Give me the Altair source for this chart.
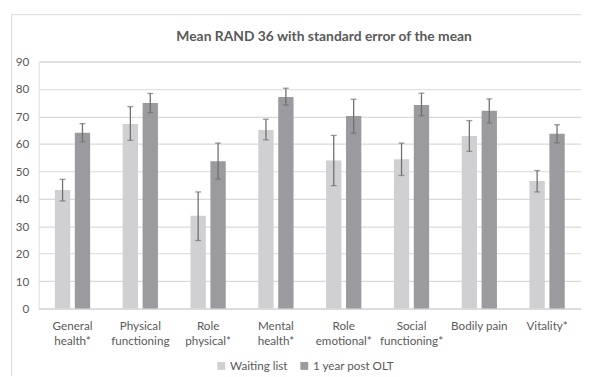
import altair as alt
import pandas as pd

title_text = "Mean RAND 36 with standard error of the mean"
categories = ["General\nhealth*", "Physical\nfunctioning", "Role\nphysical*", "Mental\nhealth*",
              "Role\nemotional*", "Social\nfunctioning*", "Bodily pain", "Vitality*"]
series = ["Waiting list", "1 year post OLT"]
waiting = [43.2, 67.3, 33.8, 65.1, 54.0, 54.4, 62.9, 46.5]
waiting_lo = [39.2, 61.3, 24.8, 61.5, 44.8, 48.5, 57.3, 42.5]
waiting_hi = [47.1, 73.6, 42.5, 69.0, 63.1, 60.3, 68.5, 50.3]
post = [64.1, 74.9, 53.7, 77.1, 70.2, 74.2, 72.1, 63.7]
post_lo = [60.8, 71.4, 47.2, 74.2, 63.9, 70.3, 67.6, 60.4]
post_hi = [67.4, 78.4, 60.3, 80.3, 76.3, 78.5, 76.4, 67.0]
y_ticks = list(range(0, 91, 10))
colors = ["#d0d0d2", "#9b9b9f"]

rows = []
for i, c in enumerate(categories):
    rows.append({"cat": c, "series": series[0], "mean": waiting[i], "lo": waiting_lo[i], "hi": waiting_hi[i]})
    rows.append({"cat": c, "series": series[1], "mean": post[i], "lo": post_lo[i], "hi": post_hi[i]})
df = pd.DataFrame(rows)

FONT = "Lato"
TXT = "#595959"
FS = 11.8
W, H = 549, 250

x = alt.X("cat:N", sort=categories, title=None,
          scale=alt.Scale(paddingInner=0.48, paddingOuter=0.24),
          axis=alt.Axis(labelAngle=0, labelExpr="split(datum.label, '\\n')",
                        labelFontSize=FS, labelColor=TXT, labelFont=FONT, labelPadding=12.5,
                        labelLineHeight=15, ticks=False, domainColor="#d9d9d9", domainWidth=1.2,
                        labelBaseline="top"))
xo = alt.XOffset("series:N", sort=series, scale=alt.Scale(paddingInner=0.23, paddingOuter=0))
yscale = alt.Scale(domain=[0, 90], nice=False)
yaxis = alt.Axis(values=y_ticks, domain=False, ticks=False, labelOverlap=False,
                 labelFontSize=FS, labelColor=TXT, labelFont=FONT, labelPadding=10,
                 gridColor="#d9d9d9", gridWidth=1.2, title=None)

def Y(field):
    return alt.Y(field, type="quantitative", title=None, scale=yscale, axis=yaxis)

base = alt.Chart(df)

bars = base.mark_bar().encode(
    x=x, xOffset=xo,
    y=Y("mean"),
    color=alt.Color("series:N", sort=series, scale=alt.Scale(domain=series, range=colors),
                    legend=alt.Legend(title=None, orient="none", direction="horizontal",
                                      legendX=179, legendY=302, padding=0, symbolType="square",
                                      symbolSize=64, symbolStrokeWidth=0, labelFontSize=FS,
                                      labelColor=TXT, labelFont=FONT, columnPadding=10,
                                      labelOffset=3)),
)

err = base.mark_rule(color="#707070", strokeWidth=1.3).encode(
    x=x, xOffset=xo, y=Y("lo"), y2="hi:Q")
cap_lo = base.mark_tick(color="#707070", size=6, thickness=1.3).encode(x=x, xOffset=xo, y=Y("lo"))
cap_hi = base.mark_tick(color="#707070", size=6, thickness=1.3).encode(x=x, xOffset=xo, y=Y("hi"))

one = alt.Chart(pd.DataFrame({"k": [0]}))
frame_v = one.mark_rule(color="#d9d9d9", strokeWidth=1).encode(
    x=alt.value(-27.5), y=alt.value(-47.5), y2=alt.value(330))
frame_h = one.mark_rule(color="#d9d9d9", strokeWidth=1).encode(
    x=alt.value(-27.5), x2=alt.value(560), y=alt.value(-47.5))
title = one.mark_text(font=FONT, fontSize=14, fontWeight="bold", color=TXT,
                      align="center", baseline="middle").encode(
    x=alt.value(289), y=alt.value(-25), text=alt.value(title_text))

chart = alt.layer(bars, err, cap_lo, cap_hi, frame_v, frame_h, title).properties(
    width=W, height=H,
    autosize=alt.AutoSizeParams(type="none"),
    padding={"left": 31, "top": 52, "right": 0, "bottom": 66},
).configure_view(stroke=None).configure(background="white")

chart.save("out.html", embed_options={"renderer": "svg", "actions": False})
